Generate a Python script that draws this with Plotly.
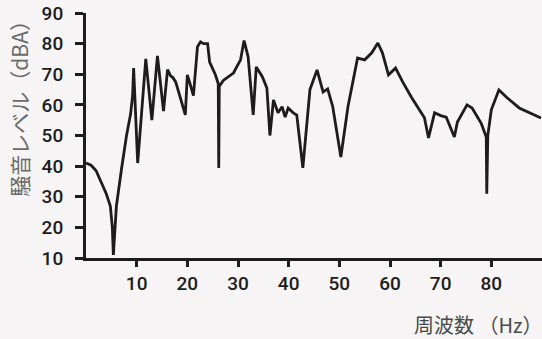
import plotly.graph_objects as go

# Noise level spectrum (frequency in Hz, level in dBA)
freq_hz = [0, 1, 2, 3, 4, 4.8, 5.2, 5.4, 5.7, 6.0, 7.0, 8.0, 8.8, 9.2, 9.4,
           10.2, 11.8, 13.0, 14.1, 15.3, 16.1, 16.7, 17.1, 17.7, 19.6, 20.0,
           20.6, 21.2, 22.0, 22.6, 23.2, 24.0, 24.4, 25.5, 26.1, 26.2, 26.3,
           27.1, 29.1, 30.5, 31.2, 32.0, 33.0, 33.6, 34.8, 35.7, 36.3, 37.0,
           37.9, 38.7, 39.3, 39.9, 40.9, 41.6, 42.8, 44.2, 45.6, 46.8, 47.7,
           48.7, 50.3, 51.7, 53.6, 55.0, 56.4, 57.6, 58.5, 59.7, 61.1, 62.5,
           64.2, 65.4, 66.8, 67.6, 68.8, 70.0, 71.1, 72.7, 73.3, 75.2, 76.2,
           78.0, 79.0, 79.1, 79.3, 80.0, 81.5, 83.0, 85.5, 89.8]
level_dba = [41, 40.3, 38.5, 35, 31, 27, 20, 11, 20, 27, 39, 50, 57, 63, 72,
             41, 75, 55, 76, 58, 71.5, 69.5, 69, 67.5, 56.7, 69.8,
             66.5, 63, 79, 80.6, 80, 80, 74, 70, 67, 39.4, 66,
             68, 70.4, 74.7, 81, 75.7, 56.7, 72.4, 69.2, 65.5, 50, 61.6,
             57.4, 59.4, 56, 59, 57.4, 56.7, 39.4, 65, 71.4, 64.2, 65.2,
             59.4, 43, 59.4, 75.3, 74.7, 77, 80.2, 77, 69.8, 72, 67.5,
             62.6, 59.4, 55.8, 49.2, 57.4, 56.5, 56, 49.5, 54.4, 60, 59,
             54, 49.5, 31, 50, 58.4, 64.9, 62.5, 59, 55.7]

x_ticks = [10, 20, 30, 40, 50, 60, 70, 80]
y_ticks = [10, 20, 30, 40, 50, 60, 70, 80, 90]

ink = "#1c1c1c"
tick_font = dict(family="Roboto, Liberation Sans, sans-serif", size=19,
                 color=ink, weight=500)

fig = go.Figure(go.Scatter(
    x=freq_hz, y=level_dba, mode="lines",
    line=dict(color=ink, width=2.8),
    hoverinfo="skip",
))

fig.update_layout(
    width=542, height=339,
    margin=dict(l=86, r=0, t=13, b=81),
    paper_bgcolor="#f6f4f4", plot_bgcolor="#f6f4f4",
    showlegend=False,
    xaxis=dict(
        range=[0, 90], tickvals=x_ticks, ticks="outside", ticklen=6,
        tickwidth=3, tickcolor=ink, showline=True, linewidth=3, linecolor=ink,
        showgrid=False, zeroline=False, ticklabelstandoff=0, tickfont=tick_font,
    ),
    yaxis=dict(
        range=[10, 90], tickvals=y_ticks, ticks="outside", ticklen=8,
        tickwidth=3, tickcolor=ink, showline=True, linewidth=3, linecolor=ink,
        showgrid=False, zeroline=False, ticklabelstandoff=8, tickfont=tick_font,
    ),
    annotations=[
        dict(text="騒音レベル（dBA）", xref="paper", yref="paper",
             x=0, y=0.63, xshift=-67, xanchor="center", yanchor="middle",
             textangle=-90, showarrow=False,
             font=dict(family="Noto Sans CJK JP", size=21, color="#6a6a6a")),
        dict(text="周波数 （Hz）", xref="paper", yref="paper",
             x=0.86, y=-0.273, xanchor="center", yanchor="middle",
             showarrow=False,
             font=dict(family="Noto Sans CJK JP", size=20, color="#4a4a4a")),
    ],
)

fig.write_html("out.html")
